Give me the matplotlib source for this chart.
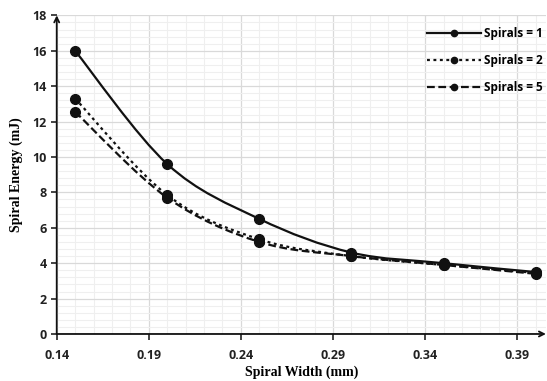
import numpy as np
import matplotlib.pyplot as plt
from matplotlib.path import Path
from matplotlib.patches import PathPatch
from matplotlib.lines import Line2D
from matplotlib.ticker import MultipleLocator

# data
widths = [0.15, 0.20, 0.25, 0.30, 0.35, 0.40]
energy_s1 = [16.0, 9.6, 6.5, 4.6, 4.0, 3.5]
energy_s2 = [13.3, 7.85, 5.35, 4.4, 3.9, 3.45]
energy_s5 = [12.55, 7.7, 5.2, 4.4, 3.9, 3.4]
labels = ["Spirals = 1", "Spirals = 2", "Spirals = 5"]
x_ticks = [0.14, 0.19, 0.24, 0.29, 0.34, 0.39]

TICK_FONT = "Open Sans"
LABEL_FONT = "Liberation Serif"


def smooth_path(x, y):
    """Excel-style smoothed line: Catmull-Rom converted to cubic Bezier segments"""
    pts = np.column_stack([x, y]).astype(float)
    verts = [pts[0]]
    codes = [Path.MOVETO]
    n = len(pts)
    for i in range(n - 1):
        p0 = pts[max(i - 1, 0)]
        p1 = pts[i]
        p2 = pts[i + 1]
        p3 = pts[min(i + 2, n - 1)]
        c1 = p1 + (p2 - p0) / 6.0
        c2 = p2 - (p3 - p1) / 6.0
        verts += [c1, c2, p2]
        codes += [Path.CURVE4] * 3
    return Path(verts, codes)


fig = plt.figure(figsize=(5.47, 3.81), dpi=100)
ax = fig.add_axes([0.1037, 0.1234, 0.8943, 0.8362])

styles = [
    dict(linestyle="-"),
    dict(linestyle=(0, (1.3, 1.6))),
    dict(linestyle=(0, (3.5, 1.6))),
]
series = [energy_s1, energy_s2, energy_s5]
handles = []
for ys, st, lab in zip(series, styles, labels):
    patch = PathPatch(smooth_path(widths, ys), facecolor="none", edgecolor="#111111",
                      linewidth=1.6, zorder=3, **st)
    ax.add_patch(patch)
    ax.plot(widths, ys, linestyle="none", marker="o", markersize=7,
            color="#111111", zorder=4, clip_on=False)
    handles.append(Line2D([], [], color="#111111", linewidth=1.6, marker="o",
                          markersize=4.5, **st))

ax.set_xlim(0.14, 0.4056)
ax.set_ylim(0, 18)
ax.set_xticks(x_ticks)
ax.set_xticklabels(["%.2f" % t for t in x_ticks])
ax.xaxis.set_minor_locator(MultipleLocator(0.01))
ax.yaxis.set_major_locator(MultipleLocator(2))
ax.yaxis.set_minor_locator(MultipleLocator(0.4))

ax.grid(which="major", color="#d9d9d9", linewidth=0.9, zorder=0)
ax.grid(which="minor", color="#efefef", linewidth=0.8, zorder=0)
ax.set_axisbelow(True)

for s in ax.spines.values():
    s.set_visible(False)
ax.annotate("", xy=(1.0, 0), xycoords="axes fraction", xytext=(0, 0),
            arrowprops=dict(arrowstyle="->", color="#111111", lw=1.3,
                            shrinkA=0, shrinkB=0, mutation_scale=9))
ax.annotate("", xy=(0, 1.0), xycoords="axes fraction", xytext=(0, 0),
            arrowprops=dict(arrowstyle="->", color="#111111", lw=1.3,
                            shrinkA=0, shrinkB=0, mutation_scale=9))

ax.tick_params(which="major", direction="out", length=4, width=1.1, color="#111111",
               pad=3)
ax.tick_params(which="minor", length=0)
for t in ax.get_xticklabels() + ax.get_yticklabels():
    t.set_fontfamily(TICK_FONT)
    t.set_fontweight("bold")
    t.set_fontsize(9)
    t.set_color("#222222")
ax.tick_params(axis="x", pad=7)

ax.set_xlabel("Spiral Width (mm)", fontfamily=LABEL_FONT, fontweight="bold",
              fontsize=10, labelpad=2)
ax.set_ylabel("Spiral Energy (mJ)", fontfamily=LABEL_FONT, fontweight="bold",
              fontsize=10, labelpad=7)

leg = ax.legend(handles, labels, loc="upper right", bbox_to_anchor=(1.01, 0.99),
                frameon=False, handlelength=4.6, handletextpad=0.25,
                labelspacing=1.2, borderaxespad=0.3,
                prop=dict(family=TICK_FONT, weight="bold", size=8.5))

fig.savefig("out.png", dpi=100)
